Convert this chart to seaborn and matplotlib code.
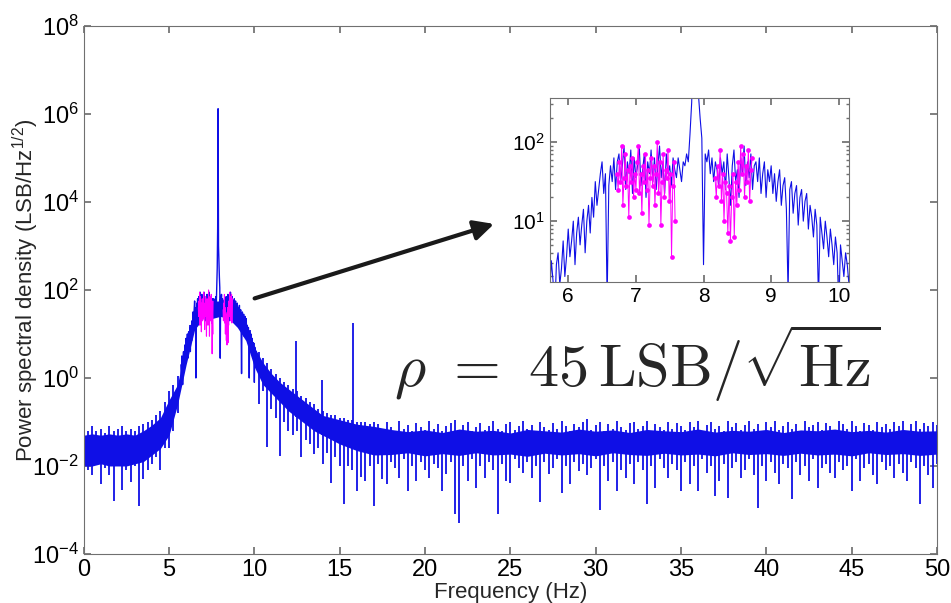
import matplotlib
matplotlib.use("Agg")

import matplotlib.pyplot as plt
import numpy as np
import pandas as pd
import seaborn as sns
from matplotlib import ticker


BLUE = "#0f0fe6"
MAGENTA = "#ff00ff"
GREY = "#707070"

# trace around the main peak, log10(PSD), uniform steps from 5.70 to 10.20 Hz
peak_span = (5.70, 10.20)
peak_log = [
    0.3, 0.05, 0.5, 0.25, -0.15, 0.45, 0.6, 0.2, 0.4, 0.75, 0.3, 0.55,
    0.9, 0.55, 0.75, 1.0, 0.45, 0.85, 1.05, 0.7, 0.95, 1.15, 0.6, 1.0, 1.2, 0.85, 1.3, 1.05, 1.5, 1.2, 1.4, 1.6,
    1.75, 1.35, 1.6, 0.0, 1.45, 1.7, 1.5, 1.8, 1.4, 1.75,
    1.85, 1.5, 1.7, 1.95, 1.4, 1.75, 1.6, 1.9, 1.35, 1.8, 1.55, 1.7, 1.95, 1.45, 1.65, 1.85, 1.3,
    1.75, 1.6, 1.9, 1.5, 1.8, 1.4, 1.7, 1.95, 1.55, 1.75, 1.35, 1.85, 1.6, 1.7, 1.45, 1.8, 1.65,
    1.55, 1.8, 1.65, 1.5, 1.75, 1.7, 1.85, 1.75, 2.1, 2.5,
    3.4, 6.12, 3.0, 2.6, 2.3, 2.05, 0.45,
    1.85, 1.75, 1.9, 1.6, 1.8, 1.5, 1.75, 1.65, 1.45, 1.8, 1.6,
    1.75, 1.4, 1.85, 1.55, 1.2, 1.7, 1.9, 1.5, 1.65, 1.3, 1.8, 1.6, 1.95, 1.45, 1.75, 1.55, 1.85, 1.4, 1.7,
    1.75, 1.5, 1.8, 1.35, 1.6, 1.75, 1.3, 1.65, 1.5, 1.7, 1.35,
    1.6, 1.25, 1.5, 1.65, 1.2, 1.45, 1.55, 1.15, 0.1, 1.4, 1.5, 1.1, 1.35, 1.45, 0.95, 1.3, 1.4, 1.0, 1.25, 1.35,
    0.9, 1.2, 1.05, 0.8, 1.15, 0.95, 0.0, 1.05, 0.85, 0.65, 1.0, 0.8, 0.55, 0.9, 0.7, 0.45, 0.8, 0.6,
    -0.1, 0.7, 0.5, 0.3, 0.6, 0.45, 0.2, 0.5, 0.3,
]

# highlighted (magenta) samples on both sides of the carrier
mag_left_span = (6.72, 7.58)
mag_left_log = [
    1.6, 1.4, 1.75, 1.5, 1.95, 1.2, 1.55, 1.85, 1.45, 1.65,
    1.05, 1.7, 1.5, 1.8, 1.3, 1.6, 1.4, 1.75, 1.95, 1.35,
    1.6, 1.1, 1.7, 1.5, 1.85, 1.4, 1.65, 0.95, 1.55, 1.8,
    1.45, 1.7, 1.2, 1.6, 2.0, 1.35, 1.75, 0.95, 1.5, 1.85,
    1.3, 1.65, 1.55, 1.9, 1.25, 1.6, 0.55, 1.45, 1.75, 1.0,
]
mag_right_span = (8.17, 8.72)
mag_right_log = [
    1.55, 1.3, 1.7, 1.45, 1.9, 1.25, 1.6, 1.0, 1.5, 1.35,
    0.85, 1.45, 0.75, 1.3, 1.6, 0.8, 1.5, 1.2, 1.75, 1.4,
    1.95, 1.6, 1.85, 1.3, 1.7, 1.5, 1.9, 1.25, 1.65, 1.8,
]

# solid core of the noise trace, log10 (0.5 Hz steps up to 15 Hz, then 1 Hz)
core_freq = [i * 0.5 for i in range(31)] + list(range(16, 51))
core_low = [
    -2.0, -2.0, -1.95, -2.0, -2.0, -2.0, -1.95, -1.9, -1.75, -1.6, -1.3, -0.6, 0.3, 1.1, 1.35,
    1.35, 1.4, 1.35, 1.15, 0.85, 0.25, -0.15, -0.35, -0.55, -0.75, -0.9, -1.05, -1.2, -1.3,
    -1.4, -1.5, -1.65, -1.75,
    -1.74, -1.7, -1.77, -1.72, -1.76, -1.7, -1.75, -1.73, -1.78, -1.71, -1.75, -1.72, -1.77,
    -1.7, -1.74, -1.76, -1.71, -1.75, -1.73, -1.77, -1.7, -1.74, -1.72, -1.76, -1.71, -1.75,
    -1.73, -1.77, -1.7, -1.74, -1.72, -1.76, -1.73,
]
core_high = [
    -1.3, -1.27, -1.3, -1.27, -1.3, -1.27, -1.3, -1.2, -1.07, -0.9, -0.5, -0.15, 0.8,
    1.55, 1.75, 1.75, 1.75, 1.7, 1.6, 1.25, 0.7, 0.35, 0.1, -0.1, -0.25, -0.4, -0.55, -0.7,
    -0.85, -0.9, -0.95, -1.05, -1.1,
    -1.17, -1.22, -1.18, -1.24, -1.16, -1.21, -1.19, -1.25, -1.17, -1.2, -1.23, -1.16, -1.21,
    -1.18, -1.24, -1.17, -1.2, -1.22, -1.16, -1.23, -1.19, -1.21, -1.17, -1.24, -1.18, -1.2,
    -1.16, -1.22, -1.19, -1.23, -1.17, -1.21, -1.2,
]

# extremes of the trace in 0.25 Hz bins (0 .. 50 Hz), log10
bin_step = 0.25
bin_max = [
    -1.15, -1.2, -1.1, -1.2, -1.15, -1.25, -1.1, -1.2, -1.15, -1.1, -1.2, -1.15, -1.2, -1.1,
    -1.05, -1.0, -0.95, -0.85, -0.75, -0.55, -0.3, -0.15, 0.05,
    0.4, 0.9, 1.2, 1.6, 1.75, 1.75, 1.75, 1.75, 1.8, 1.8, 1.75, 1.7, 1.7, 1.65, 1.5, 1.3, 1.1, 0.8,
    0.6, 0.45, 0.35, 0.2, 0.1, 0.0, -0.1, -0.15, -0.25, -0.3, -0.4, -0.45, -0.55, -0.6,
    -0.7, -0.75, -0.8, -0.85, -0.85, -0.9, -0.9, -0.95, -0.95, -1.0, -1.0, -1.0, -1.05, -1.0,
    -1.05, -1.18, -1.0, -1.12, -1.2, -0.98, -1.15, -1.08, -1.2, -1.02, -1.12, -1.18,
    -0.98, -1.15, -1.05, -1.2, -1.1, -1.02, -0.95, -1.18, -1.08, -1.0, -1.2, -1.12,
    -1.02, -1.18, -1.1, -0.97, -1.15, -1.2, -1.05, -1.0, -1.18, -1.1, -0.98, -1.15,
    -1.08, -1.2, -1.0, -1.12, -1.18, -1.02, -1.15, -0.97, -1.1, -1.2, -1.05, -1.12,
    -1.0, -0.93, -1.18, -1.08, -1.0, -1.2, -1.05, -1.15, -0.98, -1.12, -1.18, -1.02,
    -1.0, -1.15, -1.1, -0.98, -1.2, -1.05, -1.12, -1.18, -1.0, -1.15, -1.02, -1.1,
    -1.18, -1.0, -1.12, -0.97, -1.2, -1.08, -1.0, -1.15, -1.1, -1.2, -0.98, -1.12,
    -1.02, -1.18, -1.08, -0.97, -1.15, -1.05, -1.2, -1.0, -1.12, -0.98, -1.18, -1.1,
    -1.0, -1.15, -1.05, -1.2, -0.97, -1.12, -1.08, -1.0, -1.18, -1.02, -1.1, -1.2,
    -0.98, -1.05, -1.15, -0.97, -1.1, -1.2, -1.02, -1.08, -1.18, -1.0, -1.12, -1.05,
    -1.15, -1.0, -1.1, -0.98, -1.2, -1.05, -0.97, -1.15, -1.02, -1.1, -1.0, -1.08,
]
bin_min = [
    -2.57, -2.1, -2.2, -1.95, -2.4, -2.05, -2.2, -2.8, -2.0, -2.55, -2.1, -2.37, -2.0, -2.9,
    -2.3, -2.1, -1.95, -1.8, -2.1, -1.6, -1.6, -1.2, -0.8,
    0.0, 0.5, 0.8, 1.2, 1.4, 1.4, 1.4, 1.4, 1.5, 1.5, 1.4, 1.3, 1.3, 1.2, 1.1, 0.9, 0.6, 0.4,
    -0.6, -0.3, -1.58, -0.7, -0.9, -1.77, -1.0, -1.2, -1.3, -1.2, -1.8, -1.4, -1.5, -1.73,
    -1.6, -1.95, -1.7, -2.38, -1.8, -2.0, -2.87, -2.0, -2.1, -2.57, -2.25, -2.34, -2.0, -2.9,
    -1.95, -2.3, -2.42, -1.9, -2.05, -2.27, -1.85, -2.57, -2.0, -2.34, -1.9, -2.1,
    -2.27, -1.95, -2.05, -2.57, -2.19, -1.9, -3.1, -3.3, -2.0, -2.34, -1.85, -2.5,
    -2.0, -2.27, -1.9, -2.1, -3.1, -1.95, -2.34, -2.38, -1.85, -2.04, -2.15, -1.9,
    -2.27, -2.0, -2.83, -1.9, -2.19, -2.05, -1.85, -2.61, -2.0, -2.42, -1.9, -2.11,
    -1.95, -2.2, -2.05, -1.85, -3.0, -2.0, -2.34, -1.9, -2.57, -2.1, -2.27, -1.95,
    -2.42, -1.9, -2.1, -2.87, -2.0, -2.49, -1.85, -2.05, -2.27, -1.95, -2.1, -2.57,
    -1.9, -2.42, -2.0, -2.57, -1.85, -2.15, -2.0, -2.68, -2.34, -1.95, -2.72, -2.05,
    -1.9, -2.27, -2.1, -1.85, -2.2, -2.95, -2.0, -2.34, -1.9, -2.15, -2.42, -1.95,
    -2.05, -2.76, -1.9, -2.2, -2.0, -2.34, -1.85, -2.49, -2.05, -1.95, -2.15, -2.27,
    -1.9, -2.1, -2.0, -2.57, -1.85, -2.34, -2.05, -1.95, -2.2, -2.42, -1.9, -2.1,
    -2.0, -2.27, -1.95, -2.15, -2.34, -1.9, -2.05, -2.87, -2.0, -2.2, -2.49, -1.95,
]

# narrow spectral lines outside the carrier
line_freq = [12.42, 13.98, 15.78]
line_log = [0.84, -0.05, 1.26]


def log_label(value, pos):
    return rf"$\mathregular{{10^{{{int(round(np.log10(value)))}}}}}$"


def style_axes(ax, labelsize):
    for spine in ax.spines.values():
        spine.set_color(GREY)
        spine.set_linewidth(0.8)
    ax.tick_params(which="both", direction="in", top=True, right=True, color=GREY,
                   labelsize=labelsize, labelcolor="black")
    ax.tick_params(which="major", length=5)
    ax.tick_params(which="minor", length=2.5)


sns.set_theme(style="ticks")
plt.rcParams["font.family"] = ["Liberation Sans", "DejaVu Sans"]

peak_df = pd.DataFrame({
    "freq": np.linspace(*peak_span, len(peak_log)),
    "psd": 10 ** np.array(peak_log),
})
mag_df = pd.concat([
    pd.DataFrame({"freq": np.linspace(*mag_left_span, len(mag_left_log)),
                  "psd": 10 ** np.array(mag_left_log), "side": "left"}),
    pd.DataFrame({"freq": np.linspace(*mag_right_span, len(mag_right_log)),
                  "psd": 10 ** np.array(mag_right_log), "side": "right"}),
])
bin_freq = np.arange(len(bin_max)) * bin_step

fig = plt.figure(figsize=(9.51, 6.03), dpi=100)
ax = fig.add_axes([0.088, 0.0813, 0.8973, 0.8756])
ax.set_yscale("log")

ax.fill_between(core_freq, 10 ** np.array(core_low), 10 ** np.array(core_high), color=BLUE, lw=0)
ax.vlines(bin_freq, 10 ** np.array(bin_min), 10 ** np.array(bin_max), color=BLUE, lw=1.3)
line_root = 10 ** np.interp(line_freq, core_freq, core_low)
ax.vlines(line_freq, line_root, 10 ** np.array(line_log), color=BLUE, lw=1.3)
sns.lineplot(data=peak_df, x="freq", y="psd", estimator=None, sort=False, color=BLUE, lw=1.0, ax=ax)
sns.lineplot(data=mag_df, x="freq", y="psd", units="side", estimator=None, sort=False,
             color=MAGENTA, lw=0.8, ax=ax)

ax.set_xlim(0, 50)
ax.set_ylim(1e-4, 1e8)
ax.set_xticks(range(0, 51, 5))
ax.set_yticks([1e-4, 1e-2, 1e0, 1e2, 1e4, 1e6, 1e8])
ax.yaxis.set_minor_locator(ticker.NullLocator())
ax.yaxis.set_major_formatter(ticker.FuncFormatter(log_label))
style_axes(ax, 17)
ax.set_xlabel("Frequency (Hz)", fontsize=16, labelpad=1)
ax.set_ylabel(r"Power spectral density (LSB/Hz$^{\mathregular{1/2}}$)", fontsize=16)
ax.yaxis.set_label_coords(-0.05, 0.5)

ax.annotate("", xy=(24.2, 10 ** 3.52), xytext=(9.86, 10 ** 1.79),
            arrowprops=dict(arrowstyle="-|>", lw=3, color="#1a1a1a", mutation_scale=30))

fig.text(0.414, 0.358, r"$\rho\ =\ 45\,\mathrm{LSB}/\sqrt{\mathrm{Hz}}$", fontsize=43.5,
         math_fontfamily="cm", ha="left", va="baseline")

# zoomed view of the carrier
inset = fig.add_axes([0.5783, 0.5323, 0.3144, 0.3051])
inset.set_yscale("log")
sns.lineplot(data=peak_df, x="freq", y="psd", estimator=None, sort=False, color=BLUE, lw=0.8, ax=inset)
sns.lineplot(data=mag_df, x="freq", y="psd", units="side", estimator=None, sort=False,
             color=MAGENTA, lw=0.7, marker="o", markersize=3.4, markeredgewidth=0, ax=inset)
inset.set_xlim(5.73, 10.15)
inset.set_ylim(1.7, 360)
inset.set_xticks([6, 7, 8, 9, 10])
inset.set_yticks([10, 100])
inset.yaxis.set_minor_locator(ticker.LogLocator(subs=np.arange(2, 10)))
inset.yaxis.set_minor_formatter(ticker.NullFormatter())
inset.yaxis.set_major_formatter(ticker.FuncFormatter(log_label))
inset.set_xlabel("")
inset.set_ylabel("")
style_axes(inset, 15)

fig.savefig("out.png", dpi=100)
